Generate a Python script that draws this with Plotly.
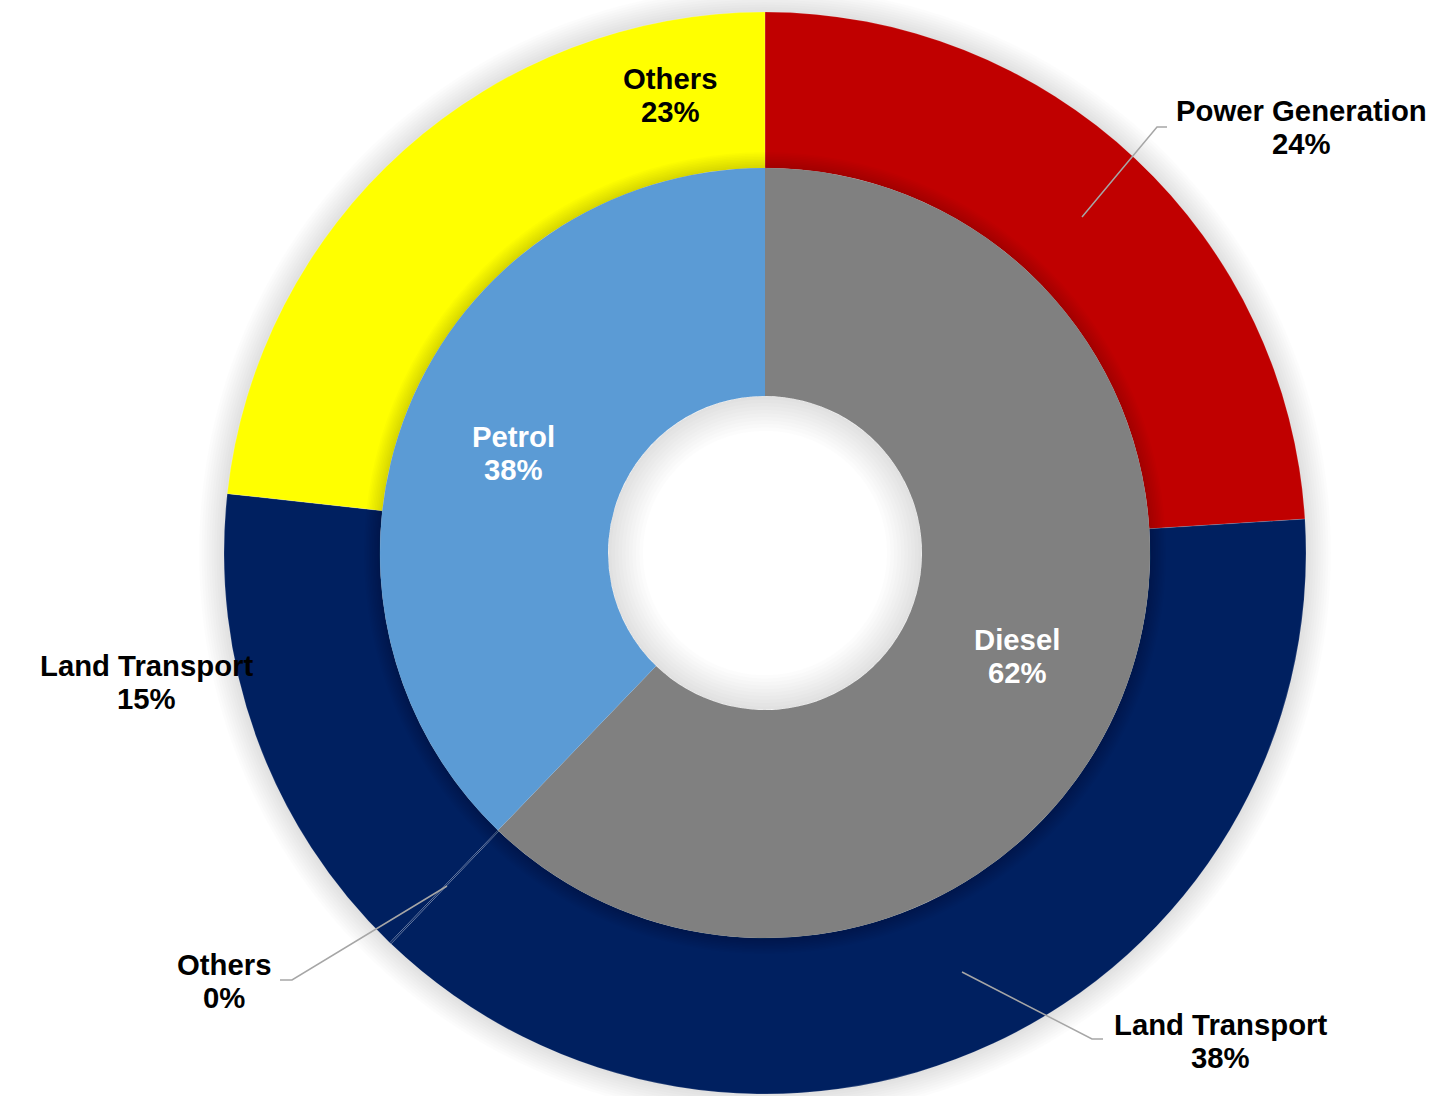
import math
import plotly.graph_objects as go

# Fuel split (inner ring) and end-use split within each fuel (outer ring)
fuel_labels = ["Diesel", "Petrol"]
fuel_values = [62.2, 37.8]
fuel_colors = ["#808080", "#5B9BD5"]

use_labels = ["Power Generation", "Land Transport", "Others", "Land Transport", "Others"]
use_values = [24.0, 38.15, 0.05, 14.55, 23.25]
use_colors = ["#C00000", "#002060", "#002060", "#002060", "#FFFF00"]

W, H = 1445, 1096
CX, CY = 765, 553          # centre of the rings, in pixels
R_OUT, R_MID, R_HOLE = 541, 385, 157


def px(x):
    return x / W


def py(y):
    return 1 - y / H


def dom(r):
    return dict(x=[(CX - r) / W, (CX + r) / W], y=[1 - (CY + r) / H, 1 - (CY - r) / H])


def pct(values):
    tot = sum(values)
    return [int(v / tot * 100 + 0.5) for v in values]


def circle_path(r, n=240):
    pts = [(CX + r * math.cos(2 * math.pi * i / n), CY + r * math.sin(2 * math.pi * i / n)) for i in range(n)]
    return "M " + " L ".join(f"{px(x):.5f},{py(y):.5f}" for x, y in pts) + " Z"


fig = go.Figure()

common = dict(sort=False, direction="clockwise", rotation=0, textinfo="none",
              hoverinfo="skip", showlegend=False)


def shade_ring(r_outer, r_inner, alpha):
    # a translucent ring made of two halves so the hole stays open
    fig.add_trace(go.Pie(values=[1, 1], labels=["a", "b"],
                         marker=dict(colors=[f"rgba(0,0,0,{alpha})"] * 2, line=dict(width=0)),
                         hole=r_inner / r_outer, domain=dom(r_outer), **common))


# outer ring: end use
fig.add_trace(go.Pie(values=use_values, labels=[f"{l} {i}" for i, l in enumerate(use_labels)],
                     marker=dict(colors=use_colors, line=dict(color="rgba(255,255,255,0.3)", width=0.5)),
                     hole=R_MID / R_OUT, domain=dom(R_OUT), **common))

# soft shadow of the inner ring falling on the outer ring
for k in range(1, 11):
    shade_ring(R_MID + 1.6 * k, R_MID - 2, 0.017)

# inner ring: fuel
fig.add_trace(go.Pie(values=fuel_values, labels=fuel_labels,
                     marker=dict(colors=fuel_colors, line=dict(width=0)),
                     hole=R_HOLE / R_MID, domain=dom(R_MID), **common))

# shading inside the centre hole
for k in range(1, 11):
    shade_ring(R_HOLE, R_HOLE - 3.5 * k, 0.012)

shapes = []
# glow around the outer ring (rings, so the centre hole stays white)
inner_edge = circle_path(R_OUT - 3)
for k in range(1, 11):
    shapes.append(dict(type="path", xref="paper", yref="paper", layer="below",
                       path=circle_path(R_OUT + 2.5 * k) + " " + inner_edge, fillrule="evenodd",
                       fillcolor="rgba(0,0,0,0.012)", line=dict(width=0)))

# leader lines
leaders = [
    [(1082, 217), (1157, 127), (1167, 127)],
    [(447, 886), (292, 980), (280, 980)],
    [(962, 972), (1092, 1039), (1103, 1039)],
]
for pts in leaders:
    path = "M " + " L ".join(f"{px(x)},{py(y)}" for x, y in pts)
    shapes.append(dict(type="path", xref="paper", yref="paper", path=path, layer="above",
                       line=dict(color="#A6A6A6", width=1.5)))

FONT = "Arial, Liberation Sans, sans-serif"
FS = 29.3
GAP = 16.5

annotations = []


def label(name, value, x, y, color="#000000"):
    for txt, dy in ((name, -GAP), (f"{value}%", GAP)):
        annotations.append(dict(text=txt, x=px(x), y=py(y + dy), xref="paper", yref="paper",
                                xanchor="center", yanchor="middle", showarrow=False,
                                font=dict(family=FONT, size=FS, color=color, weight="bold")))


fuel_pct = pct(fuel_values)
use_pct = pct(use_values)

label(fuel_labels[0], fuel_pct[0], 1017, 656, "#FFFFFF")
label(fuel_labels[1], fuel_pct[1], 513, 453, "#FFFFFF")

use_pos = [(1301, 127), (1220, 1041), (224, 981), (146, 682), (670, 95)]
for name, v, (x, y) in zip(use_labels, use_pct, use_pos):
    label(name, v, x, y)

fig.update_layout(width=W, height=H, margin=dict(l=0, r=0, t=0, b=0),
                  paper_bgcolor="#FFFFFF", plot_bgcolor="#FFFFFF",
                  shapes=shapes, annotations=annotations)

fig.write_html("out.html")
